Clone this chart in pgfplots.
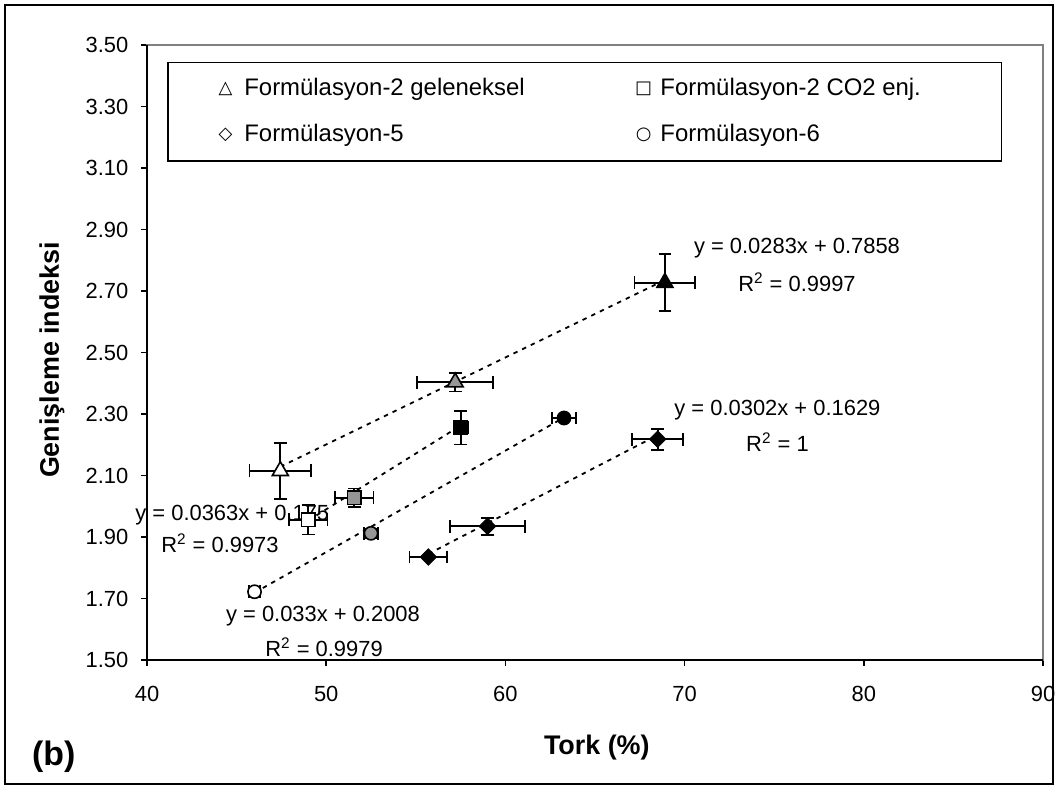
\documentclass[border=0pt]{standalone}
\usepackage{pgfplots}
\pgfplotsset{compat=1.18}
\usepackage{fontspec}
\setmainfont{Liberation Sans}
\newfontfamily\symfont{DejaVu Sans}
\definecolor{mgray}{HTML}{969696}
\definecolor{fgray}{HTML}{808080}
\pgfplotsset{
  pt/.style={only marks, mark options={draw=black, line width=0.8bp, fill=#1},
    error bars/x dir=both, error bars/x explicit, error bars/y dir=both, error bars/y explicit,
    error bars/error bar style={black, line width=0.9bp},
    error bars/error mark options={rotate=90, black, line width=0.9bp, mark size=3.2bp}},
  trend/.style={black, line width=0.9bp, dash pattern=on 2.2bp off 2.6bp, mark=none},
}
\newcommand{\txt}{\fontsize{11}{13}\selectfont}
\newcommand{\lgt}{\fontsize{12}{14}\selectfont}
\newcommand{\lgs}{\symfont\fontsize{9}{10}\selectfont}
\begin{document}
\begin{tikzpicture}[x=1bp,y=1bp]
\useasboundingbox (0,0) rectangle (529,394.5);
\draw[line width=0.9bp] (2.5,2.5) rectangle (526.3,392);
\begin{axis}[
  at={(73.5bp,64.5bp)}, anchor=south west,
  scale only axis, width=448bp, height=307.5bp,
  xmin=40, xmax=90, ymin=1.5, ymax=3.5,
  xtick={40,50,...,90},
  ytick={1.5,1.7,...,3.5},
  yticklabel style={/pgf/number format/fixed, /pgf/number format/fixed zerofill, /pgf/number format/precision=2, xshift=-3bp},
  /pgf/number format/assume math mode=true,
  xtick pos=bottom, ytick pos=left, tick align=outside,
  major tick length=2.8bp,
  tick style={black, line width=0.8bp},
  axis line style={fgray, line width=0.9bp},
  ticklabel style={font=\txt},
  xticklabel style={yshift=-7bp},
  xlabel={\bfseries Tork (\%)},
  ylabel={\bfseries Genişleme indeksi},
  xlabel style={font=\fontsize{13.5}{16}\selectfont, at={(axis description cs:0.502,-0.143)}, anchor=center},
  ylabel style={font=\fontsize{13.5}{16}\selectfont, at={(axis description cs:-0.106,0.488)}, anchor=center},
  clip=false,
]
% legend box
\draw[black, line width=0.8bp] (axis cs:41.17,3.4430) rectangle (axis cs:87.69,3.122);
\node[font=\lgs] at (axis cs:44.38,3.359) {△};
\node[font=\lgt, anchor=west, inner sep=0] at (axis cs:45.41,3.357) {Formülasyon-2 geleneksel};
\node[font=\lgs] at (axis cs:67.71,3.359) {□};
\node[font=\lgt, anchor=west, inner sep=0] at (axis cs:68.63,3.357) {Formülasyon-2 CO2 enj.};
\node[font=\lgs] at (axis cs:44.38,3.209) {◇};
\node[font=\lgt, anchor=west, inner sep=0] at (axis cs:45.41,3.207) {Formülasyon-5};
\node[font=\lgs] at (axis cs:67.71,3.209) {○};
\node[font=\lgt, anchor=west, inner sep=0] at (axis cs:68.63,3.207) {Formülasyon-6};
% equations
\node[font=\txt, anchor=west, inner sep=0] at (axis cs:39.33,1.9715) {y = 0.0363x + 0.175};
\node[font=\txt, inner sep=0] at (axis cs:44.07,1.8805) {R\textsuperscript{2} = 0.9973};
\node[font=\txt, inner sep=0] at (axis cs:76.27,2.840) {y = 0.0283x + 0.7858};
\node[font=\txt, inner sep=0] at (axis cs:76.27,2.729) {R\textsuperscript{2} = 0.9997};
\node[font=\txt, inner sep=0] at (axis cs:75.18,2.313) {y = 0.0302x + 0.1629};
\node[font=\txt, inner sep=0] at (axis cs:75.18,2.209) {R\textsuperscript{2} = 1};
\node[font=\txt, inner sep=0] at (axis cs:49.82,1.643) {y = 0.033x + 0.2008};
\node[font=\txt, inner sep=0] at (axis cs:49.88,1.542) {R\textsuperscript{2} = 0.9979};
\node[font=\bfseries\fontsize{17}{20}\selectfont] at (axis description cs:-0.104,-0.158) {(b)};
% black left/bottom axis lines
\draw[black, line width=0.9bp] (rel axis cs:0,1) -- (rel axis cs:0,0) -- (rel axis cs:1,0);
% Formulasyon-2 geleneksel (triangles)
\addplot[pt=white, mark=triangle*, mark size=4.6bp] coordinates {(47.44,2.115) +- (1.72,0.092)};
\addplot[pt=mgray, mark=triangle*, mark size=4.6bp] coordinates {(57.2,2.403) +- (2.12,0.03)};
\addplot[pt=black, mark=triangle*, mark size=4.6bp] coordinates {(68.9,2.727) +- (1.7,0.093)};
% Formulasyon-2 CO2 enj. (squares)
\addplot[pt=white, mark=square*, mark size=3.4bp] coordinates {(49.0,1.956) +- (1.07,0.048)};
\addplot[pt=mgray, mark=square*, mark size=3.4bp] coordinates {(51.57,2.028) +- (1.07,0.03)};
\addplot[pt=black, mark=square*, mark size=3.4bp] coordinates {(57.5,2.255) +- (0.4,0.054)};
% Formulasyon-5 (diamonds)
\addplot[pt=white, mark=square*, mark size=2.9bp, mark options={rotate=45}] coordinates {(55.7,1.835) +- (1.05,0.0)};
\addplot[pt=mgray, mark=square*, mark size=2.9bp, mark options={rotate=45}] coordinates {(59.0,1.935) +- (2.1,0.028)};
\addplot[pt=black, mark=square*, mark size=2.9bp, mark options={rotate=45}] coordinates {(68.5,2.218) +- (1.42,0.034)};
% Formulasyon-6 (circles)
\addplot[pt=white, mark=*, mark size=3.3bp] coordinates {(46.0,1.722) +- (0.3,0.01)};
\addplot[pt=mgray, mark=*, mark size=3.3bp] coordinates {(52.5,1.912) +- (0.37,0.015)};
\addplot[pt=black, mark=*, mark size=3.3bp] coordinates {(63.27,2.287) +- (0.68,0.01)};
% trend lines
\addplot[trend] coordinates {(47.44,2.1284) (68.9,2.7357)};
\addplot[trend] coordinates {(49.0,1.9537) (57.5,2.2623)};
\addplot[trend] coordinates {(46.0,1.7188) (63.27,2.2887)};
\addplot[trend] coordinates {(55.7,1.845) (68.5,2.2316)};
\end{axis}
\end{tikzpicture}
\end{document}
